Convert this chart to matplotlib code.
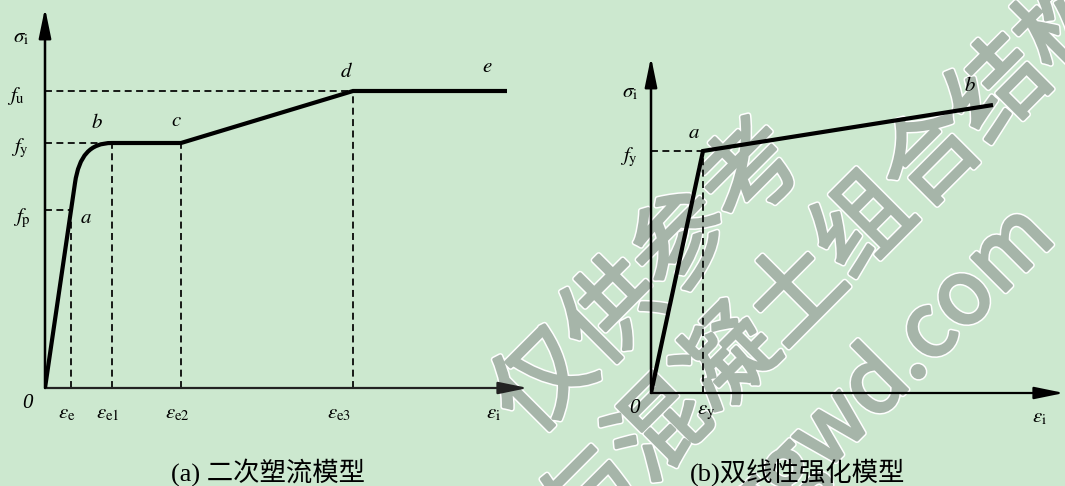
import matplotlib
matplotlib.use("Agg")
import matplotlib.pyplot as plt
from matplotlib.path import Path
from matplotlib.patches import PathPatch
from matplotlib.textpath import TextPath
from matplotlib.font_manager import FontProperties
import matplotlib.transforms as mtransforms

plt.rcParams["mathtext.fontset"] = "stix"
plt.rcParams["lines.scale_dashes"] = False

BG = "#cce8cf"

# ---- (a) secondary plastic flow model ----
strain_a = [0.0, 0.30, 0.34, 0.45, 0.67, 1.36, 3.08, 4.62]
stress_a = [0.0, 205.0, 232.0, 245.0, 245.0, 245.0, 297.0, 297.0]
eps_e, eps_e1, eps_e2, eps_e3 = 0.26, 0.67, 1.36, 3.08
f_p, f_y, f_u = 178.0, 245.0, 297.0

# ---- (b) bilinear hardening model ----
strain_b = [0.0, 0.52, 3.42]
stress_b = [0.0, 242.0, 288.0]
eps_yb, f_yb = 0.52, 242.0

captions = ["(a) 二次塑流模型", "(b)双线性强化模型"]

W, H = 1065, 486
fig = plt.figure(figsize=(W / 100, H / 100), dpi=100, facecolor=BG)

# stamp text in the background
axw = fig.add_axes([0, 0, 1, 1], zorder=-1)
axw.set_xlim(0, W)
axw.set_ylim(0, H)
axw.axis("off")
axw.patch.set_alpha(0)
wm_font = FontProperties(family="Noto Sans CJK SC")
for s, cx, cy, size in [("仅供参考", 642, 274, 98),
                        ("钢与混凝土组合结构", 790, 290, 96),
                        ("ggwd.com", 888, 375, 88)]:
    tp = TextPath((0, 0), s, size=size, prop=wm_font)
    bb = tp.get_extents()
    tr = (mtransforms.Affine2D()
          .translate(-(bb.x0 + bb.x1) / 2, -(bb.y0 + bb.y1) / 2)
          .rotate_deg(45)
          .translate(cx, H - cy))
    path = tr.transform_path(tp)
    axw.add_patch(PathPatch(path, facecolor="white", edgecolor="white",
                            lw=4.4, joinstyle="round"))
    axw.add_patch(PathPatch(path, facecolor="#a6b5a9", edgecolor="#a6b5a9",
                            lw=2.2, joinstyle="round"))

DASH = dict(color="black", lw=1.25, ls=(0, (5, 3.2)))
LBL = dict(fontsize=15, ha="center", va="center")
ZERO = dict(fontsize=15, ha="center", va="center", family="Liberation Serif",
            style="italic")


def make_axes(left, bottom, width, height, xmax, ymax):
    ax = fig.add_axes([left / W, bottom / H, width / W, height / H])
    ax.set_xlim(0, xmax)
    ax.set_ylim(0, ymax)
    ax.patch.set_alpha(0)
    for s in ax.spines.values():
        s.set_visible(False)
    ax.set_xticks([])
    ax.set_yticks([])
    return ax


def axis_arrows(ax, xcolor="black"):
    style = "-|>,head_length=1.8,head_width=0.37"
    ax.annotate("", xy=(1, 0), xytext=(0, 0), xycoords="axes fraction",
                arrowprops=dict(arrowstyle=style, lw=1.6, color=xcolor,
                                shrinkA=0, shrinkB=0, mutation_scale=10))
    ax.annotate("", xy=(0, 1), xytext=(0, 0), xycoords="axes fraction",
                arrowprops=dict(arrowstyle=style, lw=1.8, color="black",
                                shrinkA=0, shrinkB=0, mutation_scale=10))


# panel (a)
axa = make_axes(45, 98, 483, 380, 4.83, 380)
axis_arrows(axa, xcolor="#222222")

codes_a = [Path.MOVETO, Path.LINETO, Path.CURVE4, Path.CURVE4, Path.CURVE4,
           Path.LINETO, Path.LINETO, Path.LINETO]
curve_a = Path(list(zip(strain_a, stress_a)), codes_a)
axa.add_patch(PathPatch(curve_a, fill=False, lw=3.0, edgecolor="black",
                        capstyle="butt", joinstyle="miter", zorder=3))

axa.plot([0, eps_e3], [f_u, f_u], **DASH)
axa.plot([0, eps_e1], [f_y, f_y], **DASH)
axa.plot([0, eps_e], [f_p, f_p], **DASH)
for ex, top in [(eps_e, f_p), (eps_e1, f_y), (eps_e2, f_y), (eps_e3, f_u)]:
    axa.plot([ex, ex], [0, top], **DASH)

axa.text(-0.24, 351, r"$\sigma_{\mathrm{i}}$", **LBL)
axa.text(-0.29, f_u - 5, r"$f_{\mathrm{u}}$", **LBL)
axa.text(-0.25, f_y - 5, r"$f_{\mathrm{y}}$", **LBL)
axa.text(-0.23, f_p - 8, r"$f_{\mathrm{p}}$", **LBL)
axa.text(eps_e + 0.15, f_p - 7, r"$a$", **LBL)
axa.text(0.52, 266, r"$b$", **LBL)
axa.text(eps_e2 - 0.05, 268, r"$c$", **LBL)
axa.text(eps_e3 - 0.07, 317, r"$d$", **LBL)
axa.text(4.42, 322, r"$e$", **LBL)
axa.text(-0.18, -15, "0", **ZERO)
for ex, s in [(eps_e, "e"), (eps_e1, "e1"), (eps_e2, "e2"), (eps_e3 - 0.1, "e3"), (4.52, "i")]:
    axa.text(ex - 0.04, -25, r"$\varepsilon_{\mathrm{%s}}$" % s, **LBL)

# panel (b)
axb = make_axes(651, 93, 413, 336, 4.13, 336)
axis_arrows(axb)
axb.plot(strain_b, stress_b, color="black", lw=3.0, solid_joinstyle="miter",
         solid_capstyle="butt", zorder=3)
axb.plot([0, eps_yb], [f_yb, f_yb], **DASH)
axb.plot([eps_yb, eps_yb], [0, f_yb], **DASH)

axb.text(-0.21, 301, r"$\sigma_{\mathrm{i}}$", **LBL)
axb.text(-0.22, f_yb - 6, r"$f_{\mathrm{y}}$", **LBL)
axb.text(eps_yb - 0.09, 261, r"$a$", **LBL)
axb.text(3.19, 308, r"$b$", **LBL)
axb.text(-0.17, -15, "0", **ZERO)
axb.text(eps_yb + 0.03, -19, r"$\varepsilon_{\mathrm{y}}$", **LBL)
axb.text(3.88, -24, r"$\varepsilon_{\mathrm{i}}$", **LBL)

# captions
for cx, cap in zip([268, 798], captions):
    fig.text(cx / W, 1 - 472 / H, cap, ha="center", va="center", fontsize=19,
             weight="light", family=["Liberation Serif", "Noto Sans CJK SC"])

fig.savefig("out.png", dpi=100, facecolor=BG)
